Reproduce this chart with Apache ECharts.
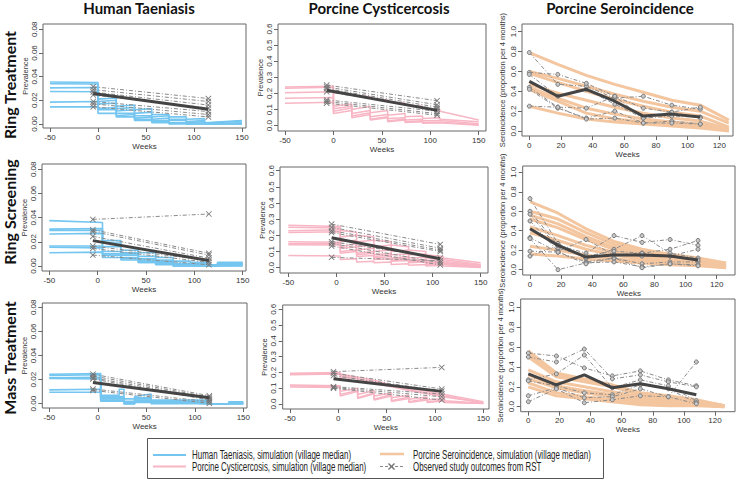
<!DOCTYPE html>
<html><head><meta charset="utf-8">
<script src="https://cdn.jsdelivr.net/npm/echarts@6/dist/echarts.min.js"></script>
<style>html,body{margin:0;padding:0;background:#fff}#c{width:737px;height:481px}</style>
</head><body><div id="c"></div>
<script>
// ================= DATA =================
// ---- Human Taeniasis, Ring Treatment ----
const htRT_knots = [-50,0,0,19,19,38,38,56,56,74,74,92,92,111,111,150];
const htRT_sim = [
  [0.0355,0.0350,0.0210,0.0220,0.0150,0.0160,0.0120,0.0130,0.0080,0.0080,0.0060,0.0060,0.0040,0.0045,0.0010,0.0030],
  [0.0340,0.0338,0.0190,0.0200,0.0130,0.0140,0.0090,0.0100,0.0060,0.0070,0.0040,0.0040,0.0020,0.0030,0.0005,0.0025],
  [0.0305,0.0308,0.0170,0.0175,0.0110,0.0120,0.0070,0.0070,0.0040,0.0050,0.0030,0.0030,0.0010,0.0020,0.0002,0.0010],
  [0.0275,0.0272,0.0130,0.0140,0.0090,0.0090,0.0050,0.0060,0.0030,0.0030,0.0010,0.0010,0.0000,0.0010,0.0000,0.0005],
  [0.0185,0.0190,0.0120,0.0120,0.0070,0.0080,0.0040,0.0040,0.0020,0.0020,0.0005,0.0010,0.0000,0.0000,0.0000,0.0000],
  [0.0145,0.0145,0.0090,0.0090,0.0060,0.0060,0.0030,0.0030,0.0010,0.0010,0.0000,0.0000,0.0000,0.0000,0.0000,0.0000]
];
const htRT_obsWeeks = [-5,115];
const htRT_obsStart = [0.0315,0.0290,0.0270,0.0245,0.0190,0.0170,0.0145];
const htRT_obsEnd   = [0.0215,0.0190,0.0160,0.0135,0.0105,0.0080,0.0060];
const htRT_mean     = [0.0258,0.0125];

// ---- Porcine Cysticercosis, Ring Treatment ----
const pcRT_knots = [-50,0,0,19,19,38,38,56,56,74,74,92,92,110,110,150];
const pcRT_sim = [
  [0.240,0.245,0.205,0.195,0.190,0.180,0.170,0.160,0.150,0.140,0.130,0.120,0.110,0.100,0.090,0.035],
  [0.232,0.238,0.120,0.135,0.100,0.120,0.080,0.095,0.065,0.075,0.055,0.060,0.045,0.050,0.040,0.025],
  [0.205,0.210,0.105,0.120,0.075,0.095,0.055,0.070,0.045,0.050,0.035,0.040,0.030,0.032,0.028,0.012],
  [0.170,0.175,0.090,0.110,0.060,0.080,0.040,0.055,0.030,0.040,0.025,0.030,0.020,0.022,0.020,0.006],
  [0.140,0.145,0.075,0.095,0.050,0.070,0.035,0.050,0.025,0.035,0.020,0.025,0.015,0.018,0.015,0.003]
];
const pcRT_obsWeeks = [-7,107];
const pcRT_obsStart = [0.252,0.240,0.230,0.210,0.160,0.150,0.140];
const pcRT_obsEnd   = [0.155,0.130,0.115,0.105,0.090,0.075,0.065];
const pcRT_mean     = [0.220,0.095];

// ---- Porcine Seroincidence, Ring Treatment ----
const siWeeks    = [0,18,36,54,72,90,108,126];
const siObsWeeks = [0,18,36,54,72,90,108];
const siRT_sim = [
  [0.79,0.67,0.56,0.47,0.39,0.31,0.26,0.11],
  [0.60,0.53,0.45,0.37,0.30,0.24,0.20,0.08],
  [0.58,0.49,0.40,0.32,0.25,0.19,0.15,0.04],
  [0.47,0.38,0.31,0.24,0.18,0.13,0.10,0.02],
  [0.44,0.33,0.23,0.17,0.12,0.09,0.07,0.01],
  [0.42,0.30,0.18,0.12,0.09,0.07,0.05,0.005],
  [0.25,0.18,0.12,0.09,0.07,0.05,0.03,0.00]
];
const siRT_obs = [
  [0.79,0.47,0.45,0.33,0.35,0.26,0.22],
  [0.59,0.57,0.48,0.35,0.23,0.19,0.24],
  [0.57,0.35,0.42,0.27,0.13,0.15,0.14],
  [0.44,0.24,0.23,0.35,0.13,0.19,0.13],
  [0.42,0.23,0.13,0.20,0.08,0.10,0.07],
  [0.25,0.24,0.12,0.13,0.08,0.08,0.07]
];
const siRT_mean = [0.50,0.35,0.42,0.30,0.15,0.17,0.14];

// ---- Human Taeniasis, Ring Screening ----
const htRS_knots = [-50,5,5,24,24,42,42,60,60,78,78,96,96,115,115,124,124,150];
const htRS_sim = [
  [0.0375,0.0360,0.0210,0.0210,0.0130,0.0130,0.0110,0.0110,0.0070,0.0070,0.0040,0.0040,0.0030,0.0030,0.0010,0.0010,0.0030,0.0030],
  [0.0305,0.0310,0.0190,0.0190,0.0110,0.0110,0.0080,0.0080,0.0050,0.0050,0.0020,0.0020,0.0020,0.0020,0.0000,0.0000,0.0025,0.0025],
  [0.0295,0.0295,0.0160,0.0160,0.0100,0.0100,0.0060,0.0060,0.0040,0.0040,0.0020,0.0020,0.0010,0.0010,0.0000,0.0000,0.0020,0.0020],
  [0.0265,0.0270,0.0120,0.0120,0.0090,0.0090,0.0050,0.0050,0.0030,0.0030,0.0010,0.0010,0.0010,0.0010,0.0000,0.0000,0.0015,0.0015],
  [0.0165,0.0165,0.0100,0.0100,0.0070,0.0070,0.0040,0.0040,0.0020,0.0020,0.0005,0.0005,0.0000,0.0000,0.0000,0.0000,0.0010,0.0010],
  [0.0155,0.0150,0.0090,0.0090,0.0060,0.0060,0.0030,0.0030,0.0020,0.0020,0.0000,0.0000,0.0000,0.0000,0.0000,0.0000,0.0005,0.0005],
  [0.0110,0.0115,0.0070,0.0070,0.0050,0.0050,0.0030,0.0030,0.0010,0.0010,0.0000,0.0000,0.0000,0.0000,0.0000,0.0000,0.0000,0.0000]
];
const htRS_obsWeeks = [-5,115];
const htRS_obsStart = [0.0385,0.0300,0.0285,0.0245,0.0165,0.0145,0.0090];
const htRS_obsEnd   = [0.0430,0.0105,0.0090,0.0065,0.0045,0.0030,0.0010];
const htRS_mean     = [0.0210,0.0045];

// ---- Porcine Cysticercosis, Ring Screening ----
const pcRS_knots = [-50,4,4,21,21,39,39,57,57,75,75,93,93,111,111,150];
const pcRS_sim = [
  [0.262,0.255,0.230,0.220,0.200,0.190,0.170,0.160,0.140,0.130,0.110,0.100,0.080,0.070,0.060,0.030],
  [0.250,0.245,0.190,0.200,0.160,0.170,0.130,0.140,0.100,0.110,0.080,0.085,0.060,0.060,0.050,0.020],
  [0.228,0.235,0.160,0.170,0.130,0.140,0.100,0.110,0.080,0.085,0.060,0.065,0.045,0.050,0.040,0.015],
  [0.218,0.222,0.130,0.150,0.110,0.120,0.080,0.090,0.060,0.070,0.045,0.050,0.035,0.040,0.030,0.010],
  [0.160,0.158,0.120,0.130,0.090,0.100,0.070,0.080,0.055,0.060,0.040,0.045,0.030,0.035,0.030,0.008],
  [0.148,0.150,0.100,0.110,0.080,0.090,0.060,0.070,0.045,0.050,0.035,0.040,0.025,0.030,0.025,0.005],
  [0.142,0.140,0.090,0.100,0.070,0.075,0.050,0.055,0.040,0.045,0.030,0.035,0.020,0.025,0.020,0.004],
  [0.075,0.072,0.050,0.055,0.035,0.040,0.030,0.035,0.020,0.025,0.015,0.020,0.010,0.015,0.010,0.002]
];
const pcRS_obsWeeks = [-5,108];
const pcRS_obsStart = [0.270,0.250,0.229,0.217,0.161,0.150,0.134,0.064];
const pcRS_obsEnd   = [0.144,0.120,0.109,0.100,0.060,0.031,0.017,0.043];
const pcRS_mean     = [0.185,0.055];

// ---- Porcine Seroincidence, Ring Screening ----
const siRS_sim = [
  [0.70,0.58,0.42,0.29,0.21,0.16,0.12,0.07],
  [0.60,0.52,0.38,0.26,0.19,0.14,0.10,0.06],
  [0.56,0.47,0.34,0.23,0.17,0.13,0.09,0.05],
  [0.52,0.43,0.31,0.21,0.15,0.12,0.08,0.04],
  [0.44,0.35,0.25,0.18,0.13,0.10,0.07,0.03],
  [0.38,0.30,0.21,0.15,0.11,0.09,0.06,0.03],
  [0.24,0.20,0.15,0.11,0.09,0.07,0.05,0.02],
  [0.16,0.14,0.11,0.09,0.07,0.05,0.04,0.02]
];
const siRS_obs = [
  [0.73,0.27,0.12,0.21,0.35,0.17,0.12],
  [0.60,0.25,0.17,0.35,0.28,0.31,0.25],
  [0.57,0.22,0.14,0.19,0.17,0.21,0.30],
  [0.50,0.19,0.31,0.15,0.14,0.14,0.21],
  [0.33,0.18,0.08,0.12,0.06,0.08,0.08],
  [0.32,0.00,0.07,0.08,0.03,0.06,0.05],
  [0.19,0.18,0.06,0.12,0.02,0.06,0.04],
  [0.14,0.25,0.12,0.15,0.17,0.14,0.10]
];
const siRS_mean = [0.42,0.25,0.13,0.15,0.15,0.14,0.10];

// ---- Human Taeniasis, Mass Treatment ----
const htMT_knots = [-50,3,3,22,22,27,27,38,38,55,55,105,105,115,115,135,135,150];
const htMT_sim = [
  [0.0245,0.0250,0.0070,0.0070,0.0120,0.0120,0.0040,0.0040,0.0060,0.0080,0.0030,0.0030,0.0030,0.0030,0.0000,0.0000,0.0015,0.0015],
  [0.0235,0.0240,0.0060,0.0060,0.0060,0.0060,0.0020,0.0020,0.0050,0.0050,0.0020,0.0020,0.0020,0.0020,0.0000,0.0000,0.0010,0.0010],
  [0.0215,0.0220,0.0050,0.0050,0.0050,0.0050,0.0000,0.0000,0.0040,0.0040,0.0015,0.0015,0.0010,0.0010,0.0000,0.0000,0.0005,0.0005],
  [0.0210,0.0205,0.0040,0.0040,0.0040,0.0040,0.0000,0.0000,0.0030,0.0030,0.0010,0.0010,0.0000,0.0000,0.0000,0.0000,0.0000,0.0000],
  [0.0115,0.0120,0.0030,0.0030,0.0030,0.0030,0.0010,0.0010,0.0020,0.0020,0.0005,0.0005,0.0000,0.0000,0.0000,0.0000,0.0000,0.0000],
  [0.0095,0.0095,0.0020,0.0020,0.0020,0.0020,0.0000,0.0000,0.0010,0.0010,0.0000,0.0000,0.0000,0.0000,0.0000,0.0000,0.0000,0.0000]
];
const htMT_obsWeeks = [-5,115];
const htMT_obsStart = [0.0245,0.0230,0.0215,0.0205,0.0122,0.0110];
const htMT_obsEnd   = [0.0066,0.0055,0.0044,0.0030,0.0017,0.0003];
const htMT_mean     = [0.0175,0.0050];

// ---- Porcine Cysticercosis, Mass Treatment ----
const pcMT_knots = [-50,2,2,20,20,37,37,55,55,73,73,92,92,110,110,150];
const pcMT_sim = [
  [0.195,0.200,0.190,0.170,0.170,0.150,0.150,0.120,0.120,0.100,0.100,0.080,0.080,0.060,0.060,0.015],
  [0.190,0.195,0.180,0.165,0.160,0.140,0.140,0.115,0.115,0.090,0.090,0.070,0.070,0.050,0.050,0.010],
  [0.185,0.190,0.170,0.160,0.150,0.130,0.130,0.110,0.110,0.085,0.085,0.065,0.065,0.045,0.045,0.008],
  [0.120,0.115,0.060,0.085,0.040,0.070,0.030,0.060,0.020,0.045,0.015,0.035,0.012,0.025,0.012,0.004],
  [0.115,0.110,0.050,0.080,0.035,0.065,0.025,0.050,0.015,0.035,0.010,0.025,0.010,0.020,0.010,0.003],
  [0.108,0.105,0.080,0.100,0.060,0.085,0.050,0.070,0.040,0.055,0.030,0.045,0.025,0.035,0.020,0.005]
];
const pcMT_obsWeeks = [-5,107];
const pcMT_obsStart = [0.205,0.195,0.180,0.110,0.105,0.100];
const pcMT_obsEnd   = [0.232,0.095,0.082,0.063,0.046,0.025];
const pcMT_mean     = [0.160,0.080];

// ---- Porcine Seroincidence, Mass Treatment ----
const siMT_sim = [
  [0.56,0.34,0.28,0.22,0.14,0.11,0.07,0.01],
  [0.53,0.32,0.27,0.21,0.13,0.10,0.06,0.01],
  [0.50,0.30,0.25,0.20,0.12,0.09,0.05,0.01],
  [0.37,0.25,0.20,0.15,0.10,0.08,0.05,0.01],
  [0.32,0.21,0.16,0.12,0.08,0.07,0.04,0.005],
  [0.28,0.19,0.14,0.10,0.06,0.05,0.03,0.005],
  [0.24,0.14,0.10,0.07,0.04,0.03,0.02,0.00],
  [0.20,0.11,0.08,0.05,0.02,0.01,0.01,0.00]
];
const siMT_obs = [
  [0.54,0.51,0.39,0.31,0.36,0.27,0.21],
  [0.50,0.45,0.58,0.28,0.32,0.25,0.20],
  [0.27,0.33,0.52,0.19,0.27,0.21,0.06],
  [0.26,0.21,0.14,0.12,0.22,0.18,0.04],
  [0.11,0.19,0.09,0.10,0.18,0.10,0.45],
  [0.05,0.18,0.04,0.07,0.11,0.10,0.03]
];
const siMT_mean = [0.33,0.22,0.32,0.19,0.23,0.18,0.12];

// ---- tick labels / texts ----
const htTicks = [0,0.02,0.04,0.06,0.08];
const pcTicks = [0,0.1,0.2,0.3,0.4,0.5,0.6];
const siTicks = [0,0.2,0.4,0.6,0.8,1.0];
const prevWeekTicks = [-50,0,50,100,150];
const siWeekTicks = [0,20,40,60,80,100,120];
const colTitles = ['Human Taeniasis','Porcine Cysticercosis','Porcine Seroincidence'];
const rowTitles = ['Ring Treatment','Ring Screening','Mass Treatment'];
const legendTexts = ['Human Taeniasis, simulation (village median)','Porcine Cysticercosis, simulation (village median)',
                     'Porcine Seroincidence, simulation (village median)','Observed study outcomes from RST'];

// ================= STYLE / LAYOUT =================
const C_BLUE='#74c6f0', C_PINK='#f8b6c4', C_TAN='#f3c6a0', C_OBS='#8a8a8a', C_MEAN='#444444';
const FONT='"Liberation Sans", Arial, sans-serif';
const XMARK='path://M1,0L5,4L9,0L10,1L6,5L10,9L9,10L5,6L1,10L0,9L4,5L0,1Z';

// box [l,t,r,b], x calibration [v1,px1,v2,px2], y calibration [v1,py1,v2,py2]
const panels = [
  {box:[43,24,246,128],    xc:[-50,50,150,242],    yc:[0,124,0.08,29.3],   kind:'ht'},
  {box:[278,24,486,131],   xc:[-50,285,150,478.7], yc:[0,125.7,0.6,29],   kind:'pc'},
  {box:[522,24,733,136],   xc:[0,529.3,120,719.3], yc:[0,131,1,31.7],      kind:'si'},
  {box:[42,164,246,271],   xc:[-50,49.3,150,242.7],yc:[0,266,0.08,169.3],  kind:'ht'},
  {box:[280,167,488,273],  xc:[-50,288.3,150,480.7],yc:[0,267.7,0.6,170.7],kind:'pc'},
  {box:[522.7,166,735,275],xc:[0,530,120,716.7],   yc:[0,269.7,1,172.3],   kind:'si'},
  {box:[42.3,303,247,408], xc:[-50,49.3,150,243.3],yc:[0,403.7,0.08,307.3],kind:'ht'},
  {box:[282.7,305,489,409],xc:[-50,290,150,483.3], yc:[0,404,0.6,309.3],   kind:'pc'},
  {box:[520.7,299,735,411.7],xc:[0,528.3,120,715], yc:[0,406.7,1,307.3],   kind:'si'}
];
function lin(c,p){return c[0]+(p-c[1])*(c[2]-c[0])/(c[3]-c[1]);}

const grids=[], xAxes=[], yAxes=[];
panels.forEach((p,i)=>{
  const [l,t,r,b]=p.box;
  grids.push({left:l,top:t,width:r-l,height:b-t,show:true,borderColor:'#666',borderWidth:1,containLabel:false});
  const isSi = p.kind==='si';
  const xt = isSi?siWeekTicks:prevWeekTicks;
  const yt = p.kind==='ht'?htTicks:(p.kind==='pc'?pcTicks:siTicks);
  const yDec = p.kind==='ht'?2:1;
  xAxes.push({type:'value',gridIndex:i,min:lin(p.xc,l),max:lin(p.xc,r),position:'bottom',
    axisLine:{show:false,onZero:false},splitLine:{show:false},
    axisTick:{show:true,length:4,lineStyle:{color:'#666'},customValues:xt},
    axisLabel:{fontSize:8,color:'#333',fontFamily:FONT,margin:5,customValues:xt,formatter:v=>String(v)},
    name:'Weeks',nameLocation:'middle',nameGap:14,nameTextStyle:{fontSize:8,color:'#333',fontFamily:FONT}});
  const yname = isSi?'Seroincidence (proportion per 4 months)':'Prevalence';
  yAxes.push({type:'value',gridIndex:i,min:lin(p.yc,b),max:lin(p.yc,t),position:'left',
    axisLine:{show:false,onZero:false},splitLine:{show:false},
    axisTick:{show:true,length:4,lineStyle:{color:'#666'},customValues:yt},
    axisLabel:{fontSize:8,color:'#333',fontFamily:FONT,margin:5,rotate:90,customValues:yt,formatter:v=>v.toFixed(yDec)},
    name:yname,nameLocation:'middle',nameGap:isSi?16:14,nameTextStyle:{fontSize:7.5,color:'#333',fontFamily:FONT}});
});

const series=[];
function addSim(gi, xs, rows, color, width){
  rows.forEach(r=>series.push({type:'line',xAxisIndex:gi,yAxisIndex:gi,data:xs.map((x,k)=>[x,r[k]]),
    symbol:'none',lineStyle:{color:color,width:width},z:2,silent:true}));
}
function addPrevObs(gi, wk, st, en, mean){
  st.forEach((s,k)=>series.push({type:'line',xAxisIndex:gi,yAxisIndex:gi,data:[[wk[0],s],[wk[1],en[k]]],
    symbol:XMARK,symbolSize:6,showSymbol:true,itemStyle:{color:'#777'},
    lineStyle:{color:C_OBS,width:1,type:[4,2,1,2]},z:3,silent:true}));
  series.push({type:'line',xAxisIndex:gi,yAxisIndex:gi,data:[[wk[0],mean[0]],[wk[1],mean[1]]],
    symbol:'none',lineStyle:{color:C_MEAN,width:3},z:4,silent:true});
}
function addSiObs(gi, rows, mean){
  rows.forEach(r=>series.push({type:'line',xAxisIndex:gi,yAxisIndex:gi,data:siObsWeeks.map((x,k)=>[x,r[k]]),
    symbol:'circle',symbolSize:4,showSymbol:true,itemStyle:{color:'#c8c8c8',borderColor:'#777',borderWidth:1},
    lineStyle:{color:C_OBS,width:1,type:[4,2,1,2]},z:3,silent:true}));
  series.push({type:'line',xAxisIndex:gi,yAxisIndex:gi,data:siObsWeeks.map((x,k)=>[x,mean[k]]),
    symbol:'none',lineStyle:{color:C_MEAN,width:3},z:4,silent:true});
}
addSim(0, htRT_knots, htRT_sim, C_BLUE, 1.6); addPrevObs(0, htRT_obsWeeks, htRT_obsStart, htRT_obsEnd, htRT_mean);
addSim(1, pcRT_knots, pcRT_sim, C_PINK, 1.5); addPrevObs(1, pcRT_obsWeeks, pcRT_obsStart, pcRT_obsEnd, pcRT_mean);
addSim(2, siWeeks, siRT_sim, C_TAN, 3);       addSiObs(2, siRT_obs, siRT_mean);
addSim(3, htRS_knots, htRS_sim, C_BLUE, 1.6); addPrevObs(3, htRS_obsWeeks, htRS_obsStart, htRS_obsEnd, htRS_mean);
addSim(4, pcRS_knots, pcRS_sim, C_PINK, 1.5); addPrevObs(4, pcRS_obsWeeks, pcRS_obsStart, pcRS_obsEnd, pcRS_mean);
addSim(5, siWeeks, siRS_sim, C_TAN, 3);       addSiObs(5, siRS_obs, siRS_mean);
addSim(6, htMT_knots, htMT_sim, C_BLUE, 1.6); addPrevObs(6, htMT_obsWeeks, htMT_obsStart, htMT_obsEnd, htMT_mean);
addSim(7, pcMT_knots, pcMT_sim, C_PINK, 1.5); addPrevObs(7, pcMT_obsWeeks, pcMT_obsStart, pcMT_obsEnd, pcMT_mean);
addSim(8, siWeeks, siMT_sim, C_TAN, 3);       addSiObs(8, siMT_obs, siMT_mean);

// ---- titles & legend (graphic) ----
const TFONT='bold 15px Lato, "Open Sans", sans-serif';
const RFONT='bold 16px Lato, "Open Sans", sans-serif';
const colX=[139,379,620], rowY=[85,212,358];
const graphic=[];
colTitles.forEach((t,i)=>graphic.push({type:'text',x:colX[i],y:8,style:{text:t,font:TFONT,fill:'#111',align:'center',verticalAlign:'middle'}}));
rowTitles.forEach((t,i)=>graphic.push({type:'text',x:9,y:rowY[i],rotation:Math.PI/2,style:{text:t,font:RFONT,fill:'#111',align:'center',verticalAlign:'middle'}}));
const LFONT='12.5px "Liberation Sans", Arial, sans-serif';
graphic.push({type:'rect',shape:{x:147.5,y:438.5,width:456,height:40},style:{fill:'#fff',stroke:'#555',lineWidth:1}});
graphic.push({type:'line',shape:{x1:153,y1:455,x2:186,y2:455},style:{stroke:C_BLUE,lineWidth:2}});
graphic.push({type:'line',shape:{x1:153,y1:466.5,x2:186,y2:466.5},style:{stroke:C_PINK,lineWidth:2}});
graphic.push({type:'line',shape:{x1:380,y1:454,x2:404,y2:454},style:{stroke:C_TAN,lineWidth:2.5}});
graphic.push({type:'line',shape:{x1:380,y1:466.5,x2:404,y2:466.5},style:{stroke:C_OBS,lineWidth:1,lineDash:[3,2]}});
graphic.push({type:'line',shape:{x1:388.5,y1:463.5,x2:394.5,y2:469.5},style:{stroke:'#777',lineWidth:1.5}});
graphic.push({type:'line',shape:{x1:388.5,y1:469.5,x2:394.5,y2:463.5},style:{stroke:'#777',lineWidth:1.5}});
[[192,455],[192,466.5],[413,455],[413,466.5]].forEach((p,i)=>graphic.push({type:'text',x:p[0],y:p[1],scaleX:0.635,
  style:{text:legendTexts[i],font:LFONT,fill:'#222',align:'left',verticalAlign:'middle'}}));

const chart = echarts.init(document.getElementById('c'), null, {renderer:'svg', width:737, height:481});
chart.setOption({animation:false, backgroundColor:'#fff', grid:grids, xAxis:xAxes, yAxis:yAxes, series:series, graphic:graphic});
</script></body></html>
